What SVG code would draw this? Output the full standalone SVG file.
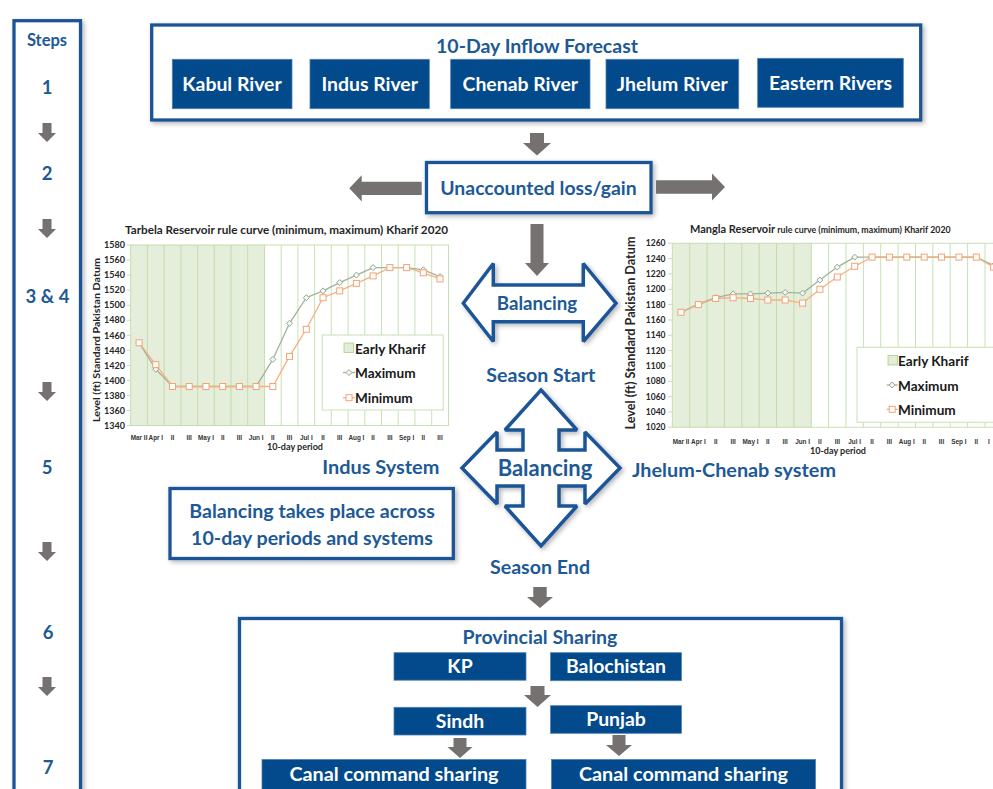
<svg xmlns="http://www.w3.org/2000/svg" width="993" height="789" viewBox="0 0 993 789">
<style>
text{font-family:Lato,"Liberation Sans",sans-serif;font-weight:700}
.frame{fill:#fff;stroke:#1d5597;stroke-width:3.3}
.box{fill:#034a8c;stroke:#4d7fb3;stroke-width:0.8}
.bt{fill:#fff;font-size:19.4px;text-anchor:middle}
.lt{fill:#1d5996;text-anchor:middle}
.arr{fill:#767171}
.blk{fill:#fff;stroke:#1d5597;stroke-width:3.5;stroke-linejoin:miter;stroke-miterlimit:2}
.shade{fill:#e5eedb}
.grid{stroke:#b9d9a0;stroke-width:0.8;fill:none}
.ct{fill:#262626}
.yl{font-size:9px;text-anchor:end;fill:#262626}
.xl text{font-family:"Liberation Sans",sans-serif;font-size:6.4px;text-anchor:middle;fill:#333}
.maxl{fill:none;stroke:#a0b29b;stroke-width:1.3;marker-start:url(#dia);marker-mid:url(#dia);marker-end:url(#dia)}
.minl{fill:none;stroke:#f6b081;stroke-width:1.3;marker-start:url(#sq);marker-mid:url(#sq);marker-end:url(#sq)}
.leg{fill:#fff;stroke:#c8e0b5;stroke-width:1}
.lgt{font-size:13.6px;fill:#1a1a1a}
</style>
<defs>
<filter id="sh" x="-10%" y="-20%" width="125%" height="150%">
<feGaussianBlur in="SourceAlpha" stdDeviation="2.5"/>
<feOffset dx="1.5" dy="1.5" result="b"/>
<feComponentTransfer><feFuncA type="linear" slope="0.3"/></feComponentTransfer>
<feMerge><feMergeNode/><feMergeNode in="SourceGraphic"/></feMerge>
</filter>
<marker id="dia" markerUnits="userSpaceOnUse" markerWidth="8" markerHeight="8" refX="4" refY="4" viewBox="0 0 8 8" overflow="visible">
<path d="M4,1 L7,4 L4,7 L1,4 Z" fill="#f4f6f2" stroke="#94a88f" stroke-width="1"/>
</marker>
<marker id="sq" markerUnits="userSpaceOnUse" markerWidth="8" markerHeight="8" refX="4" refY="4" viewBox="0 0 8 8" overflow="visible">
<rect x="1" y="1" width="6" height="6" fill="#fff" stroke="#f4a373" stroke-width="1"/>
</marker>
<path id="sdn" d="M-4.5,0 H4.5 V10 H9 L0,19 L-9,10 H-4.5 Z"/>
</defs>
<rect width="993" height="789" fill="#fff"/>

<!-- Steps column -->
<g id="steps">
<rect class="frame" x="14" y="20.7" width="66.5" height="790" filter="url(#sh)"/>
<text class="lt" x="47" y="46" font-size="16.5">Steps</text>
<text class="lt" x="47" y="93.5" font-size="18.5">1</text>
<text class="lt" x="47" y="179.5" font-size="18.5">2</text>
<text class="lt" x="47.5" y="302.5" font-size="18.5">3 &amp; 4</text>
<text class="lt" x="47" y="473.5" font-size="18.5">5</text>
<text class="lt" x="48" y="638.5" font-size="18.5">6</text>
<text class="lt" x="48" y="773.5" font-size="18.5">7</text>
<use href="#sdn" class="arr" x="47" y="123"/>
<use href="#sdn" class="arr" x="47" y="219"/>
<use href="#sdn" class="arr" x="47" y="382"/>
<use href="#sdn" class="arr" x="47" y="542"/>
<use href="#sdn" class="arr" x="47" y="677"/>
</g>

<!-- Inflow forecast -->
<g id="inflow-forecast">
<rect class="frame" x="151.7" y="25" width="769" height="95" filter="url(#sh)"/>
<text class="lt" x="537" y="53" font-size="19.5">10-Day Inflow Forecast</text>
</g>
<g id="kabul"><rect class="box" x="172.3" y="59.3" width="119.7" height="49.4"/><text class="bt" x="232" y="91">Kabul River</text></g>
<g id="indus"><rect class="box" x="310" y="59.3" width="119.3" height="49.4"/><text class="bt" x="369.7" y="91">Indus River</text></g>
<g id="chenab"><rect class="box" x="450.7" y="59.3" width="139.3" height="49.4"/><text class="bt" x="520.3" y="91">Chenab River</text></g>
<g id="jhelum"><rect class="box" x="606" y="59.3" width="132.7" height="49.4"/><text class="bt" x="672.3" y="91">Jhelum River</text></g>
<g id="eastern"><rect class="box" x="757.7" y="58.3" width="145.6" height="49"/><text class="bt" x="830.5" y="90">Eastern Rivers</text></g>

<!-- Unaccounted -->
<g id="unaccounted">
<rect class="frame" x="426.5" y="162.5" width="224.5" height="50.2" filter="url(#sh)"/>
<text class="lt" x="538.5" y="195" font-size="19.4">Unaccounted loss/gain</text>
</g>

<!-- Tarbela chart -->
<g id="tarbela-chart">
<rect class="shade" x="130.7" y="245" width="133.8" height="180.6"/>
<g class="grid">
<rect x="130.7" y="245" width="317.7" height="180.6"/>
<path d="M147.4,245V425.6M164.1,245V425.6M180.9,245V425.6M197.6,245V425.6M214.3,245V425.6M231,245V425.6M247.7,245V425.6M264.5,245V425.6M281.2,245V425.6M297.9,245V425.6M314.6,245V425.6M331.3,245V425.6M348.1,245V425.6M364.8,245V425.6M381.5,245V425.6M398.2,245V425.6M414.9,245V425.6M431.7,245V425.6"/>
<path d="M127,245H130.7M127,260.05H130.7M127,275.1H130.7M127,290.15H130.7M127,305.2H130.7M127,320.25H130.7M127,335.3H130.7M127,350.35H130.7M127,365.4H130.7M127,380.45H130.7M127,395.5H130.7M127,410.55H130.7M127,425.6H130.7"/>
</g>
<text class="ct" x="286.5" y="234" text-anchor="middle" font-size="10.5" textLength="323" lengthAdjust="spacingAndGlyphs">Tarbela Reservoir rule curve (minimum, maximum) Kharif 2020</text>
<g class="yl">
<text x="125" y="248">1580</text><text x="125" y="263">1560</text><text x="125" y="278">1540</text><text x="125" y="293">1520</text><text x="125" y="308">1500</text><text x="125" y="323">1480</text><text x="125" y="338.5">1460</text><text x="125" y="353.5">1440</text><text x="125" y="368.5">1420</text><text x="125" y="383.5">1400</text><text x="125" y="398.5">1380</text><text x="125" y="413.5">1360</text><text x="125" y="428.5">1340</text>
</g>
<text class="ct" transform="translate(100,340) rotate(-90)" text-anchor="middle" font-size="10" textLength="164" lengthAdjust="spacingAndGlyphs">Level (ft) Standard Pakistan Datum</text>
<g class="xl">
<text x="139.1" y="440">Mar II</text><text x="155.8" y="440">Apr I</text><text x="172.5" y="440">II</text><text x="189.2" y="440">III</text><text x="206" y="440">May I</text><text x="222.7" y="440">II</text><text x="239.4" y="440">III</text><text x="256.1" y="440">Jun I</text><text x="272.8" y="440">II</text><text x="289.5" y="440">III</text><text x="306.3" y="440">Jul I</text><text x="323" y="440">II</text><text x="339.7" y="440">III</text><text x="356.4" y="440">Aug I</text><text x="373.1" y="440">II</text><text x="389.9" y="440">III</text><text x="406.6" y="440">Sep I</text><text x="423.3" y="440">II</text><text x="440" y="440">III</text>
</g>
<text class="ct" x="295" y="450" text-anchor="middle" font-size="9">10-day period</text>
<polyline class="maxl" points="139.1,342.8 155.8,369.2 172.5,386.5 189.2,386.5 206,386.5 222.7,386.5 239.4,386.5 256.1,386.5 272.8,359.4 289.5,323.3 306.3,297.7 323,290.9 339.7,282.6 356.4,275.1 373.1,267.6 389.9,267.6 406.6,267.6 423.3,269.8 440,276.6"/>
<polyline class="minl" points="139.1,342.8 155.8,364.6 172.5,386.5 189.2,386.5 206,386.5 222.7,386.5 239.4,386.5 256.1,386.5 272.8,386.5 289.5,356.4 306.3,329.3 323,297.7 339.7,290.9 356.4,283.4 373.1,275.9 389.9,267.6 406.6,267.6 423.3,272.8 440,278.9"/>
<rect class="leg" x="322.3" y="335" width="121" height="75"/>
<rect x="344" y="343" width="9.5" height="9.5" fill="#e2ecd6" stroke="#a9cf8c" stroke-width="0.8"/>
<text class="lgt" x="355" y="353.5">Early Kharif</text>
<path d="M343,372.5H355" stroke="#a0b29b" stroke-width="1.3"/>
<path d="M349,369.5 L352,372.5 L349,375.5 L346,372.5 Z" fill="#f4f6f2" stroke="#94a88f"/>
<text class="lgt" x="355" y="378">Maximum</text>
<path d="M343,397.7H355" stroke="#f6b081" stroke-width="1.3"/>
<rect x="346" y="394.7" width="6" height="6" fill="#fff" stroke="#f4a373"/>
<text class="lgt" x="355" y="403">Minimum</text>
</g>

<!-- Mangla chart -->
<g id="mangla-chart">
<rect class="shade" x="672.3" y="243.3" width="139" height="184"/>
<g class="grid">
<path d="M672.3,243.3H993M672.3,427.3H993M672.3,243.3V427.3M689.7,243.3V427.3M707,243.3V427.3M724.4,243.3V427.3M741.8,243.3V427.3M759.2,243.3V427.3M776.5,243.3V427.3M793.9,243.3V427.3M811.3,243.3V427.3M828.6,243.3V427.3M846,243.3V427.3M863.4,243.3V427.3M880.7,243.3V427.3M898.1,243.3V427.3M915.5,243.3V427.3M932.9,243.3V427.3M950.2,243.3V427.3M967.6,243.3V427.3M985,243.3V427.3"/>
<path d="M668,243.3H672.3M668,258.6H672.3M668,274H672.3M668,289.3H672.3M668,304.6H672.3M668,320H672.3M668,335.3H672.3M668,350.6H672.3M668,366H672.3M668,381.3H672.3M668,396.6H672.3M668,412H672.3M668,427.3H672.3"/>
</g>
<text class="ct" x="690" y="233"><tspan font-size="11">Mangla Reservoir</tspan><tspan font-size="8.8"> rule curve (minimum, maximum) Kharif 2020</tspan></text>
<g class="yl" style="font-size:8.5px">
<text x="665.5" y="246.3">1260</text><text x="665.5" y="261.6">1240</text><text x="665.5" y="277">1220</text><text x="665.5" y="292.3">1200</text><text x="665.5" y="307.6">1180</text><text x="665.5" y="323">1160</text><text x="665.5" y="338.3">1140</text><text x="665.5" y="353.6">1120</text><text x="665.5" y="369">1100</text><text x="665.5" y="384.3">1080</text><text x="665.5" y="399.6">1060</text><text x="665.5" y="415">1040</text><text x="665.5" y="430.3">1020</text>
</g>
<text class="ct" transform="translate(634.5,333) rotate(-90)" text-anchor="middle" font-size="12.5" textLength="193" lengthAdjust="spacingAndGlyphs">Level (ft) Standard Pakistan Datum</text>
<g class="xl">
<text x="681" y="443.5">Mar II</text><text x="698.4" y="443.5">Apr I</text><text x="715.7" y="443.5">II</text><text x="733.1" y="443.5">III</text><text x="750.5" y="443.5">May I</text><text x="767.8" y="443.5">II</text><text x="785.2" y="443.5">III</text><text x="802.6" y="443.5">Jun I</text><text x="819.9" y="443.5">II</text><text x="837.3" y="443.5">III</text><text x="854.7" y="443.5">Jul I</text><text x="872.1" y="443.5">II</text><text x="889.4" y="443.5">III</text><text x="906.8" y="443.5">Aug I</text><text x="924.2" y="443.5">II</text><text x="941.5" y="443.5">III</text><text x="958.9" y="443.5">Sep I</text><text x="976.3" y="443.5">II</text><text x="989" y="443.5">I</text>
</g>
<text class="ct" x="838" y="453.5" text-anchor="middle" font-size="9">10-day period</text>
<polyline class="maxl" points="681,312.3 698.4,303.9 715.7,297.7 733.1,293.9 750.5,293.9 767.8,293.1 785.2,292.4 802.6,293.1 819.9,280.1 837.3,267.1 854.7,257.1 872.1,257.1 889.4,257.1 906.8,257.1 924.2,257.1 941.5,257.1 958.9,257.1 976.3,257.1 993.6,265.5"/>
<polyline class="minl" points="681,312.3 698.4,304.6 715.7,298.5 733.1,297.7 750.5,298.5 767.8,300 785.2,300 802.6,303.1 819.9,289.3 837.3,277 854.7,266.3 872.1,257.1 889.4,257.1 906.8,257.1 924.2,257.1 941.5,257.1 958.9,257.1 976.3,257.1 993.6,267.1"/>
<rect class="leg" x="857" y="347.3" width="150" height="75"/>
<rect x="888" y="355.5" width="9.5" height="9.5" fill="#e2ecd6" stroke="#a9cf8c" stroke-width="0.8"/>
<text class="lgt" x="898" y="366">Early Kharif</text>
<path d="M886.7,385H897.7" stroke="#a0b29b" stroke-width="1.3"/>
<path d="M892.2,382 L895.2,385 L892.2,388 L889.2,385 Z" fill="#f4f6f2" stroke="#94a88f"/>
<text class="lgt" x="898" y="391">Maximum</text>
<path d="M886.7,409.3H897.7" stroke="#f6b081" stroke-width="1.3"/>
<rect x="889.2" y="406.3" width="6" height="6" fill="#fff" stroke="#f4a373"/>
<text class="lgt" x="898" y="415">Minimum</text>
</g>

<!-- Balancing (horizontal) -->
<g id="balancing-start">
<path class="blk" filter="url(#sh)" d="M463.3,303.3 L493.3,263.5 V285 H583.3 V263.5 L616,303.3 L583.3,341.5 V321.7 H493.3 V341.5 Z"/>
<text class="lt" x="537" y="310" font-size="18.7">Balancing</text>
</g>
<g id="season-start"><text class="lt" x="540.8" y="382" font-size="19.6">Season Start</text></g>

<!-- Balancing (quad) -->
<g id="balancing-systems">
<path class="blk" filter="url(#sh)" d="M541,390 L577,430 H559 V450 H585 V432 L620,468 L585,504 V486 H559 V506 H577 L541,546 L505,506 H523 V486 H497 V504 L462,468 L497,432 V450 H523 V430 H505 Z"/>
<text class="lt" x="545" y="475.5" font-size="22">Balancing</text>
</g>
<g id="indus-system"><text class="lt" x="380.8" y="473.5" font-size="19.9">Indus System</text></g>
<g id="jhelum-chenab-system"><text class="lt" x="734" y="476.5" font-size="19.8">Jhelum-Chenab system</text></g>
<g id="season-end"><text class="lt" x="540" y="573.5" font-size="19.6">Season End</text></g>

<!-- Note -->
<g id="note">
<rect class="frame" x="170" y="488.5" width="283.3" height="70" filter="url(#sh)"/>
<text class="lt" x="312" y="517.5" font-size="19.6">Balancing takes place across</text>
<text class="lt" x="312" y="544.5" font-size="19.6">10-day periods and systems</text>
</g>

<!-- Provincial sharing -->
<g id="provincial-sharing">
<rect class="frame" x="239.5" y="618.5" width="602" height="200" filter="url(#sh)"/>
<text class="lt" x="540" y="643.5" font-size="19.5">Provincial Sharing</text>
</g>
<g id="kp"><rect class="box" x="394" y="652.7" width="132" height="27.5"/><text class="bt" x="460" y="673.3">KP</text></g>
<g id="balochistan"><rect class="box" x="550.6" y="652.7" width="130.8" height="28"/><text class="bt" x="616" y="673.3">Balochistan</text></g>
<g id="sindh"><rect class="box" x="394" y="707.3" width="132" height="27.7"/><text class="bt" x="460" y="728">Sindh</text></g>
<g id="punjab"><rect class="box" x="550.6" y="705.7" width="130.8" height="27.6"/><text class="bt" x="616" y="726.3">Punjab</text></g>
<g id="canal-sindh"><rect class="box" x="262" y="759.5" width="264" height="35"/><text class="bt" x="394" y="781" style="font-size:19.8px">Canal command sharing</text></g>
<g id="canal-punjab"><rect class="box" x="551.5" y="759.5" width="264" height="35"/><text class="bt" x="683.5" y="781" style="font-size:19.8px">Canal command sharing</text></g>

<!-- Connectors -->
<g id="connectors" class="arr">
<path d="M530,133 H544 V143 H551 L537,155.5 L523,143 H530 Z"/>
<path d="M421.7,181.7 V195 H361.7 V201.5 L349.3,188.3 L361.7,175.2 V181.7 Z"/>
<path d="M656,180.3 H712 V173.5 L725,187 L712,200.5 V193.7 H656 Z"/>
<path d="M530.5,224 H543.5 V263 H549 L537,276 L525,263 H530.5 Z"/>
<path d="M533.3,587 H546.7 V597 H553 L540,608 L527,597 H533.3 Z"/>
<path d="M530.5,686 H544.5 V695 H551 L537.5,707 L524,695 H530.5 Z"/>
<path d="M453.5,738 H466.5 V747 H472.5 L460,758 L447.5,747 H453.5 Z"/>
<path d="M612.5,735 H625.5 V745 H632 L619,756 L606,745 H612.5 Z"/>
</g>
</svg>
